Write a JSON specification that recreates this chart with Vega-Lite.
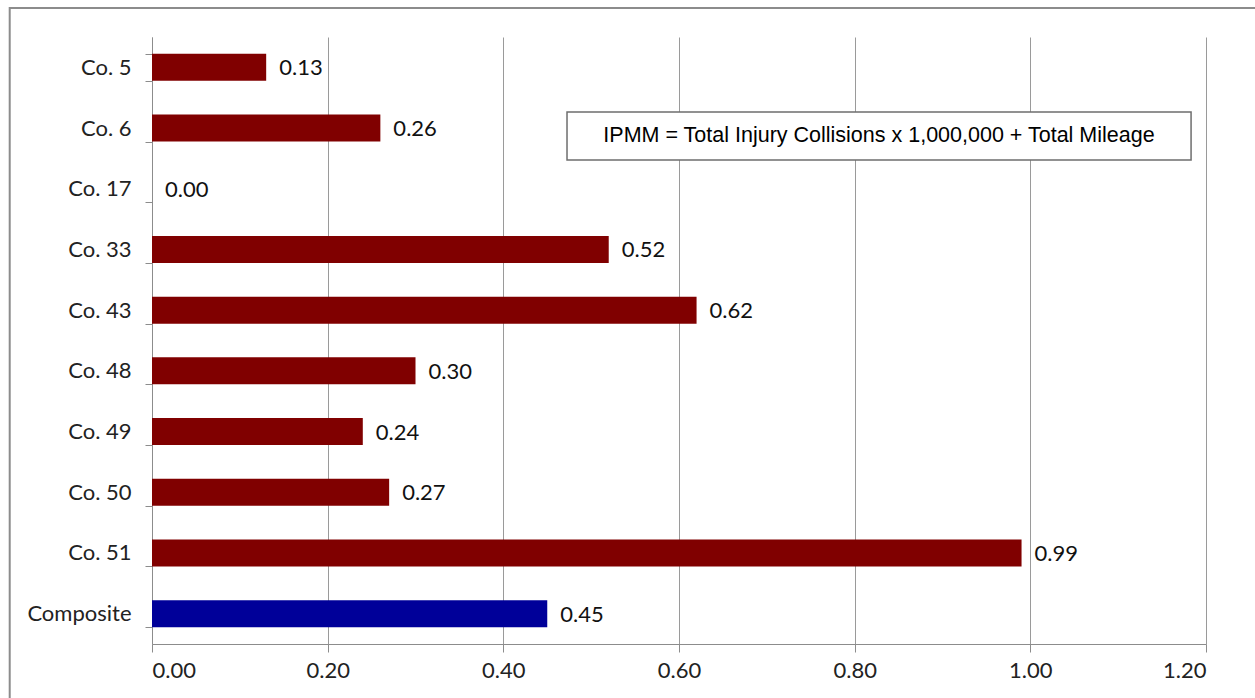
{
  "$schema": "https://vega.github.io/schema/vega-lite/v6.json",
  "autosize": {"type": "none"},
  "width": 1054,
  "height": 607,
  "padding": {"left": 152, "top": 37, "right": 49, "bottom": 54},
  "background": "white",
  "config": {
    "view": {"stroke": null},
    "axis": {"labelFont": "Lato", "labelFontSize": 22, "labelColor": "#222222", "domainColor": "#8c8c8c", "tickColor": "#8c8c8c", "gridColor": "#9a9a9a"}
  },
  "data": {
    "values": [
      {"company": "Co. 5", "ipmm": 0.13, "group": "company"},
      {"company": "Co. 6", "ipmm": 0.26, "group": "company"},
      {"company": "Co. 17", "ipmm": 0.0, "group": "company"},
      {"company": "Co. 33", "ipmm": 0.52, "group": "company"},
      {"company": "Co. 43", "ipmm": 0.62, "group": "company"},
      {"company": "Co. 48", "ipmm": 0.30, "group": "company"},
      {"company": "Co. 49", "ipmm": 0.24, "group": "company"},
      {"company": "Co. 50", "ipmm": 0.27, "group": "company"},
      {"company": "Co. 51", "ipmm": 0.99, "group": "company"},
      {"company": "Composite", "ipmm": 0.45, "group": "composite"}
    ]
  },
  "encoding": {
    "y": {
      "field": "company", "type": "nominal", "sort": null, "title": null,
      "scale": {"paddingInner": 0.555, "paddingOuter": 0.2775},
      "axis": {"tickBand": "extent", "tickSize": 7, "labelPadding": 14, "grid": false}
    }
  },
  "layer": [
    {
      "data": {"values": [{}]},
      "mark": {"type": "rect", "fill": null, "stroke": "#8c8c8c", "strokeWidth": 2},
      "encoding": {
        "y": {"value": -29},
        "y2": {"value": 700},
        "x": {"datum": -0.162, "type": "quantitative", "scale": {"domain": [0, 1.2]}},
        "x2": {"datum": 1.4}
      }
    },
    {
      "mark": {"type": "bar", "height": {"band": 1}},
      "encoding": {
        "x": {
          "field": "ipmm", "type": "quantitative", "title": null,
          "scale": {"domain": [0, 1.2], "nice": false},
          "axis": {"values": [0, 0.2, 0.4, 0.6, 0.8, 1.0, 1.2], "format": ".2f", "grid": true, "tickSize": 8, "labelPadding": 8, "domain": true}
        },
        "color": {
          "field": "group", "type": "nominal", "legend": null,
          "scale": {"domain": ["company", "composite"], "range": ["#800000", "#000099"]}
        }
      }
    },
    {
      "mark": {"type": "text", "align": "left", "baseline": "middle", "dx": 13, "dy": 1, "font": "Lato", "fontSize": 22, "color": "#111111"},
      "encoding": {
        "x": {"field": "ipmm", "type": "quantitative"},
        "text": {"field": "ipmm", "type": "quantitative", "format": ".2f"}
      }
    },
    {
      "data": {"values": [{"company": "Co. 6", "note": "IPMM = Total Injury Collisions x 1,000,000 + Total Mileage"}]},
      "mark": {"type": "rect", "fill": "white", "stroke": "#6e6e6e", "strokeWidth": 1.5, "height": 48, "yOffset": 8},
      "encoding": {
        "x": {"datum": 0.4725, "type": "quantitative"},
        "x2": {"datum": 1.183}
      }
    },
    {
      "data": {"values": [{"company": "Co. 6", "note": "IPMM = Total Injury Collisions x 1,000,000 + Total Mileage"}]},
      "mark": {"type": "text", "align": "center", "baseline": "middle", "yOffset": 8, "font": "Liberation Sans", "fontSize": 21.5, "color": "#000000"},
      "encoding": {
        "x": {"datum": 0.8277, "type": "quantitative"},
        "text": {"field": "note"}
      }
    }
  ]
}
